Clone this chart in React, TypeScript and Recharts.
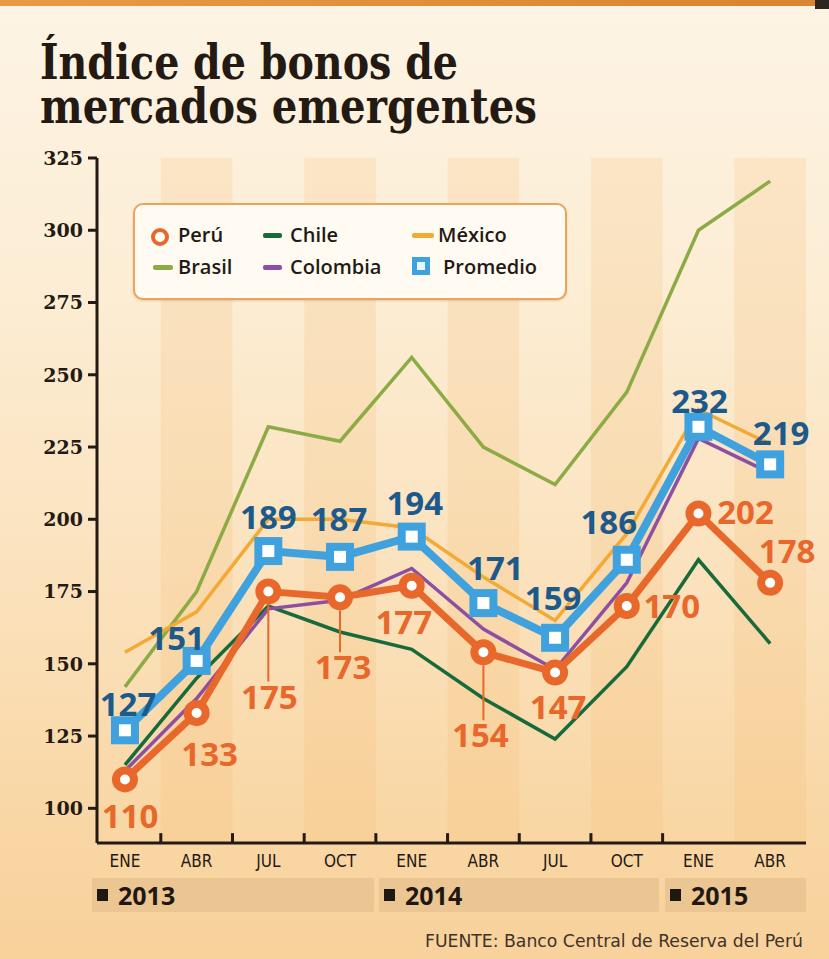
import React from "react";
import { ComposedChart, Line, XAxis, YAxis, ReferenceArea, ReferenceLine, LabelList } from "recharts";

const MONTHS = ["ENE", "ABR", "JUL", "OCT", "ENE", "ABR", "JUL", "OCT", "ENE", "ABR"];
const PERU = [110, 133, 175, 173, 177, 154, 147, 170, 202, 178];
const PROMEDIO = [127, 151, 189, 187, 194, 171, 159, 186, 232, 219];
const BRASIL = [142, 175, 232, 227, 256, 225, 212, 244, 300, 317];
const MEXICO = [154, 168, 200, 200, 197, 180, 165, 195, 238, 226];
const CHILE = [115, 145, 170, 161, 155, 138, 124, 149, 186, 157];
const COLOMBIA = [113, 138, 169, 172, 183, 162, 148, 178, 228, 216];
const Y_TICKS = [100, 125, 150, 175, 200, 225, 250, 275, 300, 325];
const YEARS = ["2013", "2014", "2015"];

// label placement (text centre relative to the point), kept apart from the values
const PERU_LABEL_OFFSET = [[5, 37], [13, 41], [1, 105], [3, 70], [-8, 36], [-3, 83], [3, 35], [45, 0], [47, -2], [17, -32]];
const PERU_LEADER = [false, false, true, true, false, true, false, false, false, false];
const PROM_LABEL_OFFSET = [[3, -26], [-20, -23], [0, -34], [-1, -38], [3, -34], [12, -35], [-2, -40], [-18, -38], [1, -26], [11, -31]];

const PERU_C = "#e8672b";
const PROM_C = "#3fa1dd";
const PROM_TXT = "#1c5a8c";
const BRASIL_C = "#8dab45";
const MEXICO_C = "#f2a935";
const CHILE_C = "#176b3b";
const COLOMBIA_C = "#8d4fa2";
const INK = "#231a13";
const NARROW = "'Liberation Sans Narrow', 'DejaVu Sans Condensed', 'Roboto', sans-serif";
const BOLD_SANS = "'Noto Sans', 'Open Sans', sans-serif";

const rows = MONTHS.map((m, i) => ({
  i,
  month: m,
  peru: PERU[i],
  promedio: PROMEDIO[i],
  brasil: BRASIL[i],
  mexico: MEXICO[i],
  chile: CHILE[i],
  colombia: COLOMBIA[i],
}));

const X_DOMAIN: [number, number] = [-0.39, 9.5];
const Y_DOMAIN: [number, number] = [88, 325];

function MonthTick({ x, y, payload }: any) {
  return (
    <text x={x} y={y} dy={16} textAnchor="middle" fontFamily={NARROW} fontSize={17} fill={INK}>
      {MONTHS[payload.value]}
    </text>
  );
}

function PeruDot(p: any) {
  if (p.cx == null || p.cy == null) return <g key={p.index} />;
  return <circle key={p.index} cx={p.cx} cy={p.cy} r={9} fill="#fff" stroke={PERU_C} strokeWidth={8} />;
}

function PromDot(p: any) {
  if (p.cx == null || p.cy == null) return <g key={p.index} />;
  return <rect key={p.index} x={p.cx - 10} y={p.cy - 10} width={20} height={20} fill="#fff" stroke={PROM_C} strokeWidth={8} />;
}

function PeruLabel(p: any) {
  const { x, y, value, index } = p;
  const [dx, dy] = PERU_LABEL_OFFSET[index];
  const cx = x + dx;
  const cy = y + dy;
  return (
    <g>
      {PERU_LEADER[index] && <line x1={x} x2={x} y1={y + 13} y2={cy - 15} stroke={PERU_C} strokeWidth={2} />}
      <text x={cx} y={cy + 12} textAnchor="middle" fontFamily={BOLD_SANS} fontWeight={700} fontSize={33} fill={PERU_C}>
        {value}
      </text>
    </g>
  );
}

function PromLabel(p: any) {
  const { x, y, value, index } = p;
  const [dx, dy] = PROM_LABEL_OFFSET[index];
  return (
    <text x={x + dx} y={y + dy + 12} textAnchor="middle" fontFamily={BOLD_SANS} fontWeight={700} fontSize={33} fill={PROM_TXT}>
      {value}
    </text>
  );
}

function LegendBox() {
  const txt: React.CSSProperties = {
    position: "absolute",
    fontFamily: "'Open Sans', sans-serif",
    fontWeight: 600,
    fontSize: 20,
    color: INK,
    lineHeight: "24px",
    whiteSpace: "nowrap",
  };
  const dash = (left: number, top: number, w: number, color: string) => (
    <div style={{ position: "absolute", left, top: top - 2.5, width: w, height: 5, borderRadius: 2, background: color }} />
  );
  return (
    <div
      style={{
        position: "absolute",
        left: 133,
        top: 203,
        width: 434,
        height: 97,
        boxSizing: "border-box",
        border: "2.5px solid #e9a560",
        borderRadius: 10,
        background: "#fffaf2",
        boxShadow: "0 1px 2px rgba(160,100,40,0.25)",
      }}
    >
      <div style={{ position: "absolute", left: 16, top: 23, width: 10, height: 10, borderRadius: "50%", border: `4px solid ${PERU_C}`, background: "#fff" }} />
      <div style={{ ...txt, left: 43, top: 18 }}>Perú</div>
      {dash(128, 30, 19, CHILE_C)}
      <div style={{ ...txt, left: 155, top: 18 }}>Chile</div>
      {dash(277, 30, 22, MEXICO_C)}
      <div style={{ ...txt, left: 303, top: 18 }}>México</div>
      {dash(18, 62, 20, BRASIL_C)}
      <div style={{ ...txt, left: 43, top: 50 }}>Brasil</div>
      {dash(128, 62, 19, COLOMBIA_C)}
      <div style={{ ...txt, left: 155, top: 50 }}>Colombia</div>
      <div style={{ position: "absolute", left: 277, top: 52, width: 8, height: 8, border: `5px solid ${PROM_C}`, background: "#eaf6fd" }} />
      <div style={{ ...txt, left: 308, top: 50 }}>Promedio</div>
    </div>
  );
}

function Decor() {
  const bands = [
    [92, 282],
    [379, 280],
    [665, 141],
  ];
  return (
    <svg width={829} height={959} style={{ position: "absolute", left: 0, top: 0 }}>
      <defs>
        <linearGradient id="topbar" x1="0" x2="1" y1="0" y2="0">
          <stop offset="0" stopColor="#e99a45" />
          <stop offset="1" stopColor="#d9842e" />
        </linearGradient>
      </defs>
      <rect x={0} y={0} width={829} height={6} fill="url(#topbar)" />
      <rect x={815} y={0} width={14} height={9} fill="#2d2620" />
      <text x={40} y={79} fontFamily="'DejaVu Serif', serif" fontWeight={700} fontSize={48} fill={INK} textLength={418} lengthAdjust="spacingAndGlyphs">
        Índice de bonos de
      </text>
      <text x={40} y={123} fontFamily="'DejaVu Serif', serif" fontWeight={700} fontSize={48} fill={INK} textLength={497} lengthAdjust="spacingAndGlyphs">
        mercados emergentes
      </text>
      {YEARS.map((yr, k) => (
        <g key={yr}>
          <rect x={bands[k][0]} y={878} width={bands[k][1]} height={34} fill="#ebc692" />
          <rect x={bands[k][0] + 5} y={889} width={11} height={12} fill="#1f1812" />
          <text x={bands[k][0] + 26} y={905} fontFamily="'Open Sans', sans-serif" fontWeight={700} fontSize={25} fill="#1f1812">
            {yr}
          </text>
        </g>
      ))}
      <text x={803} y={947} textAnchor="end" fontFamily={NARROW} fontSize={18} fill="#3f3329" textLength={378} lengthAdjust="spacingAndGlyphs">
        FUENTE: Banco Central de Reserva del Perú
      </text>
    </svg>
  );
}

export default function App() {
  return (
    <div
      style={{
        position: "relative",
        width: 829,
        height: 959,
        overflow: "hidden",
        background: "linear-gradient(180deg, #fdf4e5 0%, #fcedd4 30%, #fbe2bd 60%, #f9d7a5 85%, #f8d19b 100%)",
      }}
    >
      <style>{"body{margin:0}"}</style>
      <Decor />
      <div style={{ position: "absolute", left: 0, top: 0 }}>
        <ComposedChart width={829} height={959} data={rows} margin={{ top: 158, right: 23, bottom: 86, left: 37 }}>
          {[1, 3, 5, 7, 9].map((k) => (
            <ReferenceArea key={k} x1={k - 0.5} x2={Math.min(k + 0.5, X_DOMAIN[1])} fill="#f5b870" fillOpacity={0.2} strokeOpacity={0} ifOverflow="hidden" />
          ))}
          <XAxis
            dataKey="i"
            type="number"
            domain={X_DOMAIN}
            ticks={[0, 1, 2, 3, 4, 5, 6, 7, 8, 9]}
            allowDataOverflow
            tick={<MonthTick />}
            tickLine={false}
            axisLine={{ stroke: INK, strokeWidth: 3 }}
          />
          <YAxis
            type="number"
            domain={Y_DOMAIN}
            ticks={Y_TICKS}
            allowDataOverflow
            width={60}
            tickSize={9}
            tickMargin={5}
            tickLine={{ stroke: INK, strokeWidth: 3 }}
            axisLine={{ stroke: INK, strokeWidth: 3 }}
            tick={{ fill: INK, fontSize: 19, fontWeight: 700, fontFamily: "'DejaVu Serif', serif" }}
          />
          {[0.5, 1.5, 2.5, 3.5, 4.5, 5.5, 6.5, 7.5].map((b) => (
            <ReferenceLine key={b} segment={[{ x: b, y: Y_DOMAIN[0] }, { x: b, y: Y_DOMAIN[0] + 3.4 }]} stroke={INK} strokeWidth={3} />
          ))}
          <Line dataKey="brasil" stroke={BRASIL_C} strokeWidth={3.5} dot={false} isAnimationActive={false} />
          <Line dataKey="mexico" stroke={MEXICO_C} strokeWidth={3.5} dot={false} isAnimationActive={false} />
          <Line dataKey="chile" stroke={CHILE_C} strokeWidth={3.5} dot={false} isAnimationActive={false} />
          <Line dataKey="colombia" stroke={COLOMBIA_C} strokeWidth={3.5} dot={false} isAnimationActive={false} />
          <Line dataKey="promedio" stroke={PROM_C} strokeWidth={8} dot={PromDot} activeDot={false} isAnimationActive={false}>
            <LabelList dataKey="promedio" content={PromLabel} />
          </Line>
          <Line dataKey="peru" stroke={PERU_C} strokeWidth={7} dot={PeruDot} activeDot={false} isAnimationActive={false}>
            <LabelList dataKey="peru" content={PeruLabel} />
          </Line>
        </ComposedChart>
      </div>
      <LegendBox />
    </div>
  );
}
